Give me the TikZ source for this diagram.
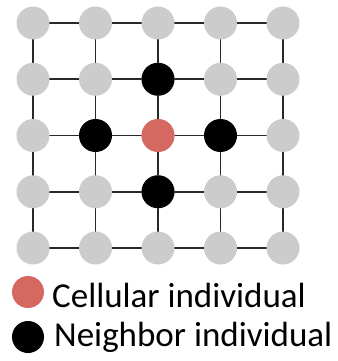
\documentclass[tikz,border=0pt]{standalone}
\usepackage{fontspec}
\setmainfont{Carlito}
\usetikzlibrary{positioning,backgrounds}
\definecolor{cellgray}{RGB}{204,204,204}
\definecolor{cellred}{RGB}{214,104,98}
\definecolor{linkgray}{RGB}{40,40,40}
\begin{document}
\begin{tikzpicture}[x=1pt, y=-1pt,
  cell/.style={circle, fill=cellgray, minimum size=33pt, inner sep=0pt},
  neighbor/.style={cell, fill=black},
  center/.style={cell, fill=cellred},
  link/.style={draw=linkgray, line width=1.8pt},
  legtext/.style={anchor=base west, font=\fontsize{35}{42}\selectfont, inner sep=0pt}]
  \useasboundingbox (0,0) rectangle (337,361);
  % 5x5 lattice of individuals
  \foreach \i in {0,...,4}
    \foreach \j in {0,...,4}
      \node[cell] (n-\i-\j) at (33+62.5*\i, 23+56.25*\j) {};
  % neighbourhood of the centre cell
  \node[center] at (n-2-2) {};
  \foreach \i/\j in {2/1, 1/2, 3/2, 2/3}
    \node[neighbor] at (n-\i-\j) {};
  % links behind the nodes
  \begin{scope}[on background layer]
    \foreach \k in {0,...,4} {
      \draw[link] (n-0-\k.center) -- (n-4-\k.center);
      \draw[link] (n-\k-0.center) -- (n-\k-4.center);
    }
  \end{scope}
  % legend
  \node[center, minimum size=32pt] (key-cell) at (28,292) {};
  \node[neighbor, minimum size=32pt] (key-nb) at (28,337) {};
  \node[legtext] at (52,307) {Cellular individual};
  \node[legtext] at (54,346) {Neighbor individual};
\end{tikzpicture}
\end{document}
